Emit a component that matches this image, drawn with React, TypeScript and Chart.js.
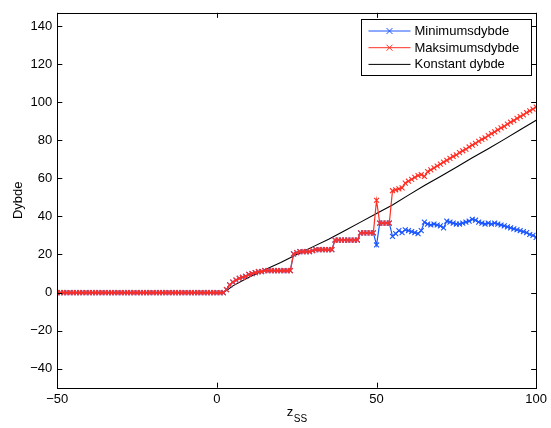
import React, { useEffect, useRef } from 'react';
import { Chart, registerables } from 'chart.js';

Chart.register(...registerables);

// z grid (x values)
const zGrid = [
  -50, -49, -48, -47, -46, -45, -44, -43, -42, -41, -40, -39, -38, -37, -36, -35, -34, -33, -32, -31,
  -30, -29, -28, -27, -26, -25, -24, -23, -22, -21, -20, -19, -18, -17, -16, -15, -14, -13, -12, -11,
  -10, -9, -8, -7, -6, -5, -4, -3, -2, -1, 0, 1, 2, 3, 4, 5, 6, 7, 8, 9,
  10, 11, 12, 13, 14, 15, 16, 17, 18, 19, 20, 21, 22, 23, 24, 25, 26, 27, 28, 29,
  30, 31, 32, 33, 34, 35, 36, 37, 38, 39, 40, 41, 42, 43, 44, 45, 46, 47, 48, 49,
  50, 51, 52, 53, 54, 55, 56, 57, 58, 59, 60, 61, 62, 63, 64, 65, 66, 67, 68, 69,
  70, 71, 72, 73, 74, 75, 76, 77, 78, 79, 80, 81, 82, 83, 84, 85, 86, 87, 88, 89,
  90, 91, 92, 93, 94, 95, 96, 97, 98, 99, 100,
];

const minimumsdybde = [
  0, 0, 0, 0, 0, 0, 0, 0, 0, 0, 0, 0, 0, 0, 0, 0, 0, 0, 0, 0,
  0, 0, 0, 0, 0, 0, 0, 0, 0, 0, 0, 0, 0, 0, 0, 0, 0, 0, 0, 0,
  0, 0, 0, 0, 0, 0, 0, 0, 0, 0, 0, 0, 0, 1.5, 4, 5.5, 6.5, 7.5, 8, 8.5,
  9.5, 10, 10.5, 11, 11, 11.5, 11.5, 11.5, 11.5, 11.5, 11.5, 11.5, 11.5, 11.5, 20.3, 21, 21.5, 21.5, 21.5, 21.5,
  22, 22.5, 22.5, 22.5, 22.5, 22.5, 22.5, 27.6, 27.6, 27.6, 27.6, 27.6, 27.6, 27.6, 27.6, 31.4, 31.4, 31.4, 31.4, 31.4,
  25, 36.5, 36.5, 36.5, 36.5, 29.5, 31, 32.5, 31.5, 33, 32.5, 32, 31.5, 31, 32.5, 37, 36, 35.5, 36, 35.5,
  35, 34, 37.5, 37, 36.5, 36, 36, 36.5, 37, 37.5, 38.5, 38, 37, 36.5, 36, 36.5, 36, 36.5, 36, 35.5,
  35, 34.5, 34, 33.5, 33, 32.5, 32, 31.5, 30.5, 30, 29,
];

const maksimumsdybde = [
  0, 0, 0, 0, 0, 0, 0, 0, 0, 0, 0, 0, 0, 0, 0, 0, 0, 0, 0, 0,
  0, 0, 0, 0, 0, 0, 0, 0, 0, 0, 0, 0, 0, 0, 0, 0, 0, 0, 0, 0,
  0, 0, 0, 0, 0, 0, 0, 0, 0, 0, 0, 0, 0, 1.5, 4, 5.5, 6.5, 7.5, 8, 8.5,
  9.5, 10, 10.5, 11, 11, 11.5, 11.5, 11.5, 11.5, 11.5, 11.5, 11.5, 11.5, 11.5, 20.3, 21, 21.5, 21.5, 21.5, 21.5,
  22, 22.5, 22.5, 22.5, 22.5, 22.5, 22.5, 27.6, 27.6, 27.6, 27.6, 27.6, 27.6, 27.6, 27.6, 31.4, 31.4, 31.4, 31.4, 31.4,
  48.5, 36.5, 36.5, 36.5, 36.5, 53.5, 54, 54.5, 55, 57.5, 58.5, 59.5, 60.5, 61.5, 62, 61, 63.5, 64.5, 65.5, 66.5,
  67.5, 68.5, 69.5, 70.5, 71.5, 72.3, 73.5, 74.5, 75.3, 76.5, 77.5, 78.4, 79.5, 80.5, 81.3, 82.5, 83.5, 84.4, 85.5, 86.5,
  87.3, 88.5, 89.5, 90.4, 91.5, 92.5, 93.4, 94.5, 95.5, 96.4, 97.5,
];

const konstantZ = [-50, 0, 2, 3, 5, 10, 15, 20, 25, 30, 35, 40, 45, 50, 55, 60, 65, 70, 75, 80, 85, 90, 95, 100];
const konstantDybde = [0, 0, 0, 1, 3.5, 8, 12, 15.8, 20, 24, 28, 32.5, 37, 41.5, 46, 51.2, 56.2, 61, 65.8, 70.8, 75.6, 80.5, 85.5, 90.5];

const xTicks = [-50, 0, 50, 100];
const xTickLabels = ['\u221250', '0', '50', '100'];
const yTicks = [-40, -20, 0, 20, 40, 60, 80, 100, 120, 140];
const yTickLabels = ['\u221240', '\u221220', '0', '20', '40', '60', '80', '100', '120', '140'];

const legendLabels = ['Minimumsdybde', 'Maksimumsdybde', 'Konstant dybde'];
const seriesColors = ['#1a55ff', '#ff2f24', '#000000'];

const FONT = '"Liberation Sans", Arial, Helvetica, sans-serif';

const framePlugin = {
  id: 'matlabFrame',
  afterDraw(chart: any) {
    const ctx = chart.ctx;
    const a = chart.chartArea;
    const xs = chart.scales.x;
    const ys = chart.scales.y;
    ctx.save();
    ctx.strokeStyle = '#000';
    ctx.lineWidth = 1;
    ctx.strokeRect(Math.round(a.left) + 0.5, Math.round(a.top) + 0.5, Math.round(a.right - a.left), Math.round(a.bottom - a.top));
    const tl = 5;
    ctx.beginPath();
    xTicks.forEach((v) => {
      const px = Math.round(xs.getPixelForValue(v)) + 0.5;
      ctx.moveTo(px, a.bottom);
      ctx.lineTo(px, a.bottom - tl);
      ctx.moveTo(px, a.top);
      ctx.lineTo(px, a.top + tl);
    });
    yTicks.forEach((v) => {
      const py = Math.round(ys.getPixelForValue(v)) + 0.5;
      ctx.moveTo(a.left, py);
      ctx.lineTo(a.left + tl, py);
      ctx.moveTo(a.right, py);
      ctx.lineTo(a.right - tl, py);
    });
    ctx.stroke();

    // axis titles
    ctx.fillStyle = '#000';
    ctx.font = `13px ${FONT}`;
    ctx.textBaseline = 'alphabetic';
    const cx = (a.left + a.right) / 2;
    ctx.textAlign = 'left';
    const zW = ctx.measureText('z').width;
    ctx.font = `10px ${FONT}`;
    const sW = ctx.measureText('SS').width;
    const startX = cx - (zW + sW) / 2;
    ctx.font = `13px ${FONT}`;
    ctx.fillText('z', startX, a.bottom + 28);
    ctx.font = `10px ${FONT}`;
    ctx.fillText('SS', startX + zW + 0.5, a.bottom + 34);

    ctx.save();
    ctx.font = `13px ${FONT}`;
    ctx.translate(22, (a.top + a.bottom) / 2);
    ctx.rotate(-Math.PI / 2);
    ctx.textAlign = 'center';
    ctx.fillText('Dybde', 0, 0);
    ctx.restore();

    // legend
    const bw = 170;
    const bh = 56;
    const bx = Math.round(a.right - 5 - bw) + 0.5;
    const by = Math.round(a.top + 6.5) + 0.5;
    ctx.fillStyle = '#fff';
    ctx.fillRect(bx, by, bw, bh);
    ctx.strokeStyle = '#000';
    ctx.lineWidth = 1;
    ctx.strokeRect(bx, by, bw, bh);
    ctx.font = `13px ${FONT}`;
    ctx.textBaseline = 'middle';
    ctx.textAlign = 'left';
    legendLabels.forEach((lab, i) => {
      const ry = by + 11.5 + i * 16.7;
      ctx.strokeStyle = seriesColors[i];
      ctx.lineWidth = 1;
      ctx.beginPath();
      ctx.moveTo(bx + 7, ry);
      ctx.lineTo(bx + 49, ry);
      ctx.stroke();
      if (i < 2) {
        const mx = bx + 28;
        const r = 3;
        ctx.beginPath();
        ctx.moveTo(mx - r, ry - r);
        ctx.lineTo(mx + r, ry + r);
        ctx.moveTo(mx - r, ry + r);
        ctx.lineTo(mx + r, ry - r);
        ctx.stroke();
      }
      ctx.fillStyle = '#000';
      ctx.fillText(lab, bx + 53, ry + 0.5);
    });
    ctx.restore();
  },
};

export default function App() {
  const ref = useRef<HTMLCanvasElement | null>(null);

  useEffect(() => {
    if (!ref.current) return;
    const minData = zGrid.map((z, i) => ({ x: z, y: minimumsdybde[i] }));
    const maxData = zGrid.map((z, i) => ({ x: z, y: maksimumsdybde[i] }));
    const konstData = konstantZ.map((z, i) => ({ x: z, y: konstantDybde[i] }));

    const chart = new Chart(ref.current, {
      type: 'line',
      data: {
        datasets: [
          {
            label: legendLabels[0],
            data: minData,
            borderColor: seriesColors[0],
            backgroundColor: seriesColors[0],
            borderWidth: 1.2,
            pointStyle: 'crossRot',
            pointRadius: 3.5,
            pointBorderWidth: 1.1,
            pointBorderColor: seriesColors[0],
            tension: 0,
            order: 2,
          },
          {
            label: legendLabels[1],
            data: maxData,
            borderColor: seriesColors[1],
            backgroundColor: seriesColors[1],
            borderWidth: 1.2,
            pointStyle: 'crossRot',
            pointRadius: 3.5,
            pointBorderWidth: 1.1,
            pointBorderColor: seriesColors[1],
            tension: 0,
            order: 1,
          },
          {
            label: legendLabels[2],
            data: konstData,
            borderColor: seriesColors[2],
            borderWidth: 1.1,
            pointRadius: 0,
            tension: 0,
            order: 3,
          },
        ],
      },
      options: {
        responsive: false,
        animation: false,
        layout: { padding: { left: 0, right: 12.5, top: 9.5, bottom: 0 } },
        plugins: {
          legend: { display: false },
          tooltip: { enabled: false },
        },
        scales: {
          x: {
            type: 'linear',
            min: -50,
            max: 100,
            grid: { display: false, drawTicks: false },
            border: { display: false },
            afterBuildTicks: (s: any) => {
              s.ticks = xTicks.map((v) => ({ value: v }));
            },
            afterFit: (s: any) => {
              s.height = 40.3;
            },
            ticks: {
              autoSkip: false,
              maxRotation: 0,
              padding: 4,
              color: '#000',
              font: { family: FONT, size: 13 },
              callback: (v: any) => {
                const i = xTicks.indexOf(Number(v));
                return i >= 0 ? xTickLabels[i] : '';
              },
            },
          },
          y: {
            type: 'linear',
            min: -50,
            max: 147,
            grid: { display: false, drawTicks: false },
            border: { display: false },
            afterBuildTicks: (s: any) => {
              s.ticks = yTicks.map((v) => ({ value: v }));
            },
            afterFit: (s: any) => {
              s.width = 57.3;
            },
            ticks: {
              autoSkip: false,
              padding: 5,
              color: '#000',
              font: { family: FONT, size: 13 },
              callback: (v: any) => {
                const i = yTicks.indexOf(Number(v));
                return i >= 0 ? yTickLabels[i] : '';
              },
            },
          },
        },
      },
      plugins: [framePlugin],
    } as any);
    return () => chart.destroy();
  }, []);

  return (
    <div style={{ position: 'absolute', left: 0, top: 0, width: 551, height: 428, background: '#fff' }}>
      <canvas ref={ref} width={551} height={428} style={{ display: 'block' }} />
    </div>
  );
}
